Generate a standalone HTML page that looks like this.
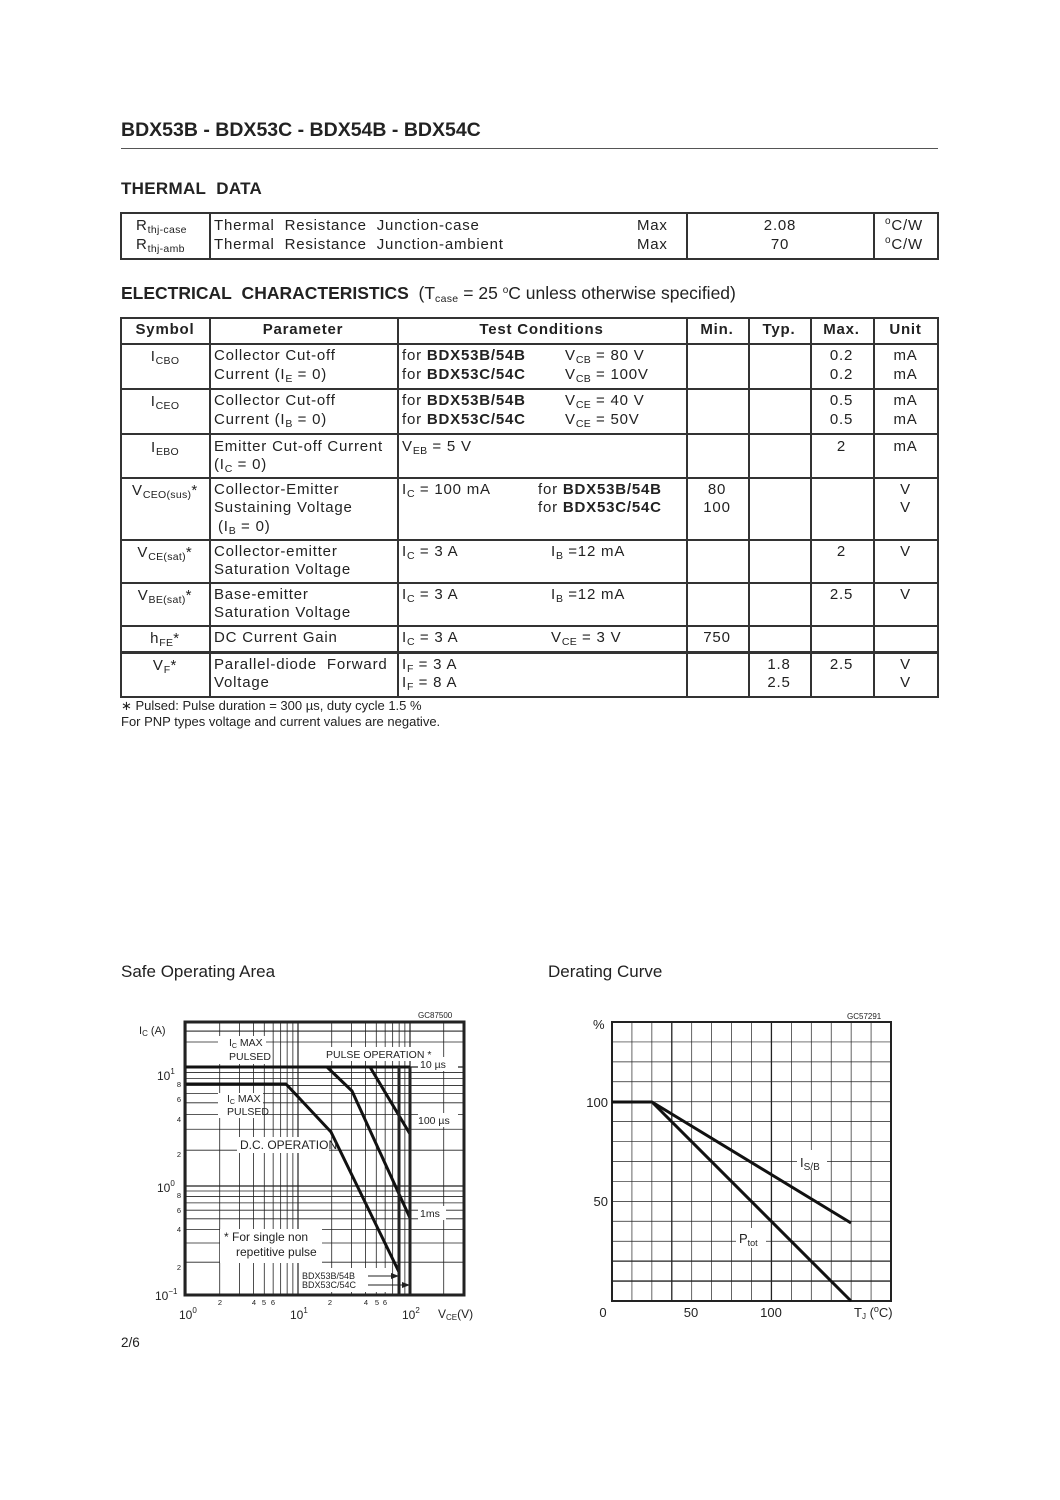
<!DOCTYPE html>
<html><head><meta charset="utf-8">
<style>
body{margin:0;background:#fff;}
#p{position:relative;width:1060px;height:1500px;background:#fff;font-family:"Liberation Sans",Arial,sans-serif;color:#222;overflow:hidden;}
.t{position:absolute;white-space:nowrap;font-size:15px;line-height:16px;letter-spacing:0.8px;}
.c{text-align:center;}
.b{font-weight:bold;}
sub{font-size:10.5px;vertical-align:-3px;line-height:0;letter-spacing:0.3px;}
sup{font-size:10px;vertical-align:6px;line-height:0;}
.h{position:absolute;background:#333;}
</style></head><body><div id="p">
<div class="t b" style="left:121px;top:119px;font-size:19.5px;line-height:22px;letter-spacing:0">BDX53B - BDX53C - BDX54B - BDX54C</div>
<div class="h" style="left:121px;top:148px;width:817px;height:1px;background:#555"></div>
<div class="t b" style="left:121px;top:180px;font-size:17px;line-height:18px;letter-spacing:0.3px">THERMAL&nbsp; DATA</div>

<!-- thermal table -->
<div style="position:absolute;left:120px;top:212px;width:815px;height:44px;border:2px solid #333;"></div>
<div class="h" style="left:209px;top:212px;width:1.5px;height:47px"></div>
<div class="h" style="left:686px;top:212px;width:1.5px;height:47px"></div>
<div class="h" style="left:873px;top:212px;width:1.5px;height:47px"></div>
<div class="t" style="left:136px;top:218px">R<sub>thj-case</sub></div>
<div class="t" style="left:136px;top:237px">R<sub>thj-amb</sub></div>
<div class="t" style="left:214px;top:218px;word-spacing:5px">Thermal Resistance Junction-case</div>
<div class="t" style="left:214px;top:237px;word-spacing:5px">Thermal Resistance Junction-ambient</div>
<div class="t" style="left:637px;top:218px">Max</div>
<div class="t" style="left:637px;top:237px">Max</div>
<div class="t c" style="left:740px;width:80px;top:218px">2.08</div>
<div class="t c" style="left:740px;width:80px;top:237px">70</div>
<div class="t" style="left:885px;top:218px"><sup>o</sup>C/W</div>
<div class="t" style="left:885px;top:237px"><sup>o</sup>C/W</div>

<div class="t" style="left:121px;top:284px;font-size:17.5px;line-height:19px;letter-spacing:0"><b>ELECTRICAL&nbsp; CHARACTERISTICS</b> &nbsp;(T<sub>case</sub> = 25 <sup>o</sup>C unless otherwise specified)</div>

<!-- electrical table -->
<div style="position:absolute;left:120px;top:317px;width:815px;height:377px;border:2px solid #333;"></div>
<div class="h" style="left:209px;top:317px;width:1.5px;height:380px"></div>
<div class="h" style="left:397px;top:317px;width:1.5px;height:380px"></div>
<div class="h" style="left:686px;top:317px;width:1.5px;height:380px"></div>
<div class="h" style="left:748px;top:317px;width:1.5px;height:380px"></div>
<div class="h" style="left:810px;top:317px;width:1.5px;height:380px"></div>
<div class="h" style="left:873px;top:317px;width:1.5px;height:380px"></div>
<div class="h" style="left:120px;top:343px;width:818px;height:2px"></div>
<div class="h" style="left:120px;top:388px;width:818px;height:2px"></div>
<div class="h" style="left:120px;top:433px;width:818px;height:2px"></div>
<div class="h" style="left:120px;top:477px;width:818px;height:2px"></div>
<div class="h" style="left:120px;top:539px;width:818px;height:2px"></div>
<div class="h" style="left:120px;top:582px;width:818px;height:2px"></div>
<div class="h" style="left:120px;top:625px;width:818px;height:2px"></div>
<div class="h" style="left:120px;top:651px;width:818px;height:2.5px"></div>

<div class="t b c" style="left:121px;width:88px;top:322px">Symbol</div>
<div class="t b c" style="left:209px;width:188px;top:322px">Parameter</div>
<div class="t b c" style="left:397px;width:289px;top:322px">Test Conditions</div>
<div class="t b c" style="left:686px;width:62px;top:322px">Min.</div>
<div class="t b c" style="left:748px;width:62px;top:322px">Typ.</div>
<div class="t b c" style="left:810px;width:63px;top:322px">Max.</div>
<div class="t b c" style="left:873px;width:65px;top:322px">Unit</div>

<!-- ICBO -->
<div class="t c" style="left:121px;width:88px;top:349px">I<sub>CBO</sub></div>
<div class="t" style="left:214px;top:348px">Collector Cut-off</div>
<div class="t" style="left:214px;top:367px">Current (I<sub>E</sub> = 0)</div>
<div class="t" style="left:402px;top:348px">for <b>BDX53B/54B</b></div>
<div class="t" style="left:402px;top:367px">for <b>BDX53C/54C</b></div>
<div class="t" style="left:565px;top:348px">V<sub>CB</sub> = 80 V</div>
<div class="t" style="left:565px;top:367px">V<sub>CB</sub> = 100V</div>
<div class="t c" style="left:810px;width:63px;top:348px">0.2</div>
<div class="t c" style="left:810px;width:63px;top:367px">0.2</div>
<div class="t c" style="left:873px;width:65px;top:348px">mA</div>
<div class="t c" style="left:873px;width:65px;top:367px">mA</div>
<!-- ICEO -->
<div class="t c" style="left:121px;width:88px;top:394px">I<sub>CEO</sub></div>
<div class="t" style="left:214px;top:393px">Collector Cut-off</div>
<div class="t" style="left:214px;top:412px">Current (I<sub>B</sub> = 0)</div>
<div class="t" style="left:402px;top:393px">for <b>BDX53B/54B</b></div>
<div class="t" style="left:402px;top:412px">for <b>BDX53C/54C</b></div>
<div class="t" style="left:565px;top:393px">V<sub>CE</sub> = 40 V</div>
<div class="t" style="left:565px;top:412px">V<sub>CE</sub> = 50V</div>
<div class="t c" style="left:810px;width:63px;top:393px">0.5</div>
<div class="t c" style="left:810px;width:63px;top:412px">0.5</div>
<div class="t c" style="left:873px;width:65px;top:393px">mA</div>
<div class="t c" style="left:873px;width:65px;top:412px">mA</div>
<!-- IEBO -->
<div class="t c" style="left:121px;width:88px;top:440px">I<sub>EBO</sub></div>
<div class="t" style="left:214px;top:439px">Emitter Cut-off Current</div>
<div class="t" style="left:214px;top:457px">(I<sub>C</sub> = 0)</div>
<div class="t" style="left:402px;top:439px">V<sub>EB</sub> = 5 V</div>
<div class="t c" style="left:810px;width:63px;top:439px">2</div>
<div class="t c" style="left:873px;width:65px;top:439px">mA</div>
<!-- VCEO -->
<div class="t c" style="left:121px;width:88px;top:483px">V<sub>CEO(sus)</sub>*</div>
<div class="t" style="left:214px;top:482px">Collector-Emitter</div>
<div class="t" style="left:214px;top:500px">Sustaining Voltage</div>
<div class="t" style="left:218px;top:519px">(I<sub>B</sub> = 0)</div>
<div class="t" style="left:402px;top:482px">I<sub>C</sub> = 100 mA</div>
<div class="t" style="left:538px;top:482px">for <b>BDX53B/54B</b></div>
<div class="t" style="left:538px;top:500px">for <b>BDX53C/54C</b></div>
<div class="t c" style="left:686px;width:62px;top:482px">80</div>
<div class="t c" style="left:686px;width:62px;top:500px">100</div>
<div class="t c" style="left:873px;width:65px;top:482px">V</div>
<div class="t c" style="left:873px;width:65px;top:500px">V</div>
<!-- VCEsat -->
<div class="t c" style="left:121px;width:88px;top:545px">V<sub>CE(sat)</sub>*</div>
<div class="t" style="left:214px;top:544px">Collector-emitter</div>
<div class="t" style="left:214px;top:562px">Saturation Voltage</div>
<div class="t" style="left:402px;top:544px">I<sub>C</sub> = 3 A</div>
<div class="t" style="left:551px;top:544px">I<sub>B</sub> =12 mA</div>
<div class="t c" style="left:810px;width:63px;top:544px">2</div>
<div class="t c" style="left:873px;width:65px;top:544px">V</div>
<!-- VBEsat -->
<div class="t c" style="left:121px;width:88px;top:588px">V<sub>BE(sat)</sub>*</div>
<div class="t" style="left:214px;top:587px">Base-emitter</div>
<div class="t" style="left:214px;top:605px">Saturation Voltage</div>
<div class="t" style="left:402px;top:587px">I<sub>C</sub> = 3 A</div>
<div class="t" style="left:551px;top:587px">I<sub>B</sub> =12 mA</div>
<div class="t c" style="left:810px;width:63px;top:587px">2.5</div>
<div class="t c" style="left:873px;width:65px;top:587px">V</div>
<!-- hFE -->
<div class="t c" style="left:121px;width:88px;top:631px">h<sub>FE</sub>*</div>
<div class="t" style="left:214px;top:630px">DC Current Gain</div>
<div class="t" style="left:402px;top:630px">I<sub>C</sub> = 3 A</div>
<div class="t" style="left:551px;top:630px">V<sub>CE</sub> = 3 V</div>
<div class="t c" style="left:686px;width:62px;top:630px">750</div>
<!-- VF -->
<div class="t c" style="left:121px;width:88px;top:658px">V<sub>F</sub>*</div>
<div class="t" style="left:214px;top:657px;word-spacing:5px">Parallel-diode Forward</div>
<div class="t" style="left:214px;top:675px">Voltage</div>
<div class="t" style="left:402px;top:657px">I<sub>F</sub> = 3 A</div>
<div class="t" style="left:402px;top:675px">I<sub>F</sub> = 8 A</div>
<div class="t c" style="left:748px;width:62px;top:657px">1.8</div>
<div class="t c" style="left:748px;width:62px;top:675px">2.5</div>
<div class="t c" style="left:810px;width:63px;top:657px">2.5</div>
<div class="t c" style="left:873px;width:65px;top:657px">V</div>
<div class="t c" style="left:873px;width:65px;top:675px">V</div>

<div class="t" style="left:121px;top:698px;font-size:13px;letter-spacing:0">∗ Pulsed: Pulse duration = 300 µs, duty cycle 1.5 %</div>
<div class="t" style="left:121px;top:714px;font-size:13px;letter-spacing:0">For PNP types voltage and current values are negative.</div>

<div class="t" style="left:121px;top:962px;font-size:17px;line-height:19px;letter-spacing:0">Safe Operating Area</div>
<div class="t" style="left:548px;top:962px;font-size:17px;line-height:19px;letter-spacing:0">Derating Curve</div>
<div class="t" style="left:121px;top:1335px;font-size:13.5px;letter-spacing:0">2/6</div>

<svg id="soa" style="position:absolute;left:0;top:0" width="1060" height="1500"></svg>
<script>
(function(){
var s='';
function L(x1,y1,x2,y2,w){s+='<line x1="'+x1+'" y1="'+y1+'" x2="'+x2+'" y2="'+y2+'" stroke="#222" stroke-width="'+w+'"/>';}
function T(x,y,t,fs,a){s+='<text x="'+x+'" y="'+y+'" font-family="Liberation Sans,Arial,sans-serif" font-size="'+fs+'" fill="#222"'+(a?' text-anchor="'+a+'"':'')+'>'+t+'</text>';}
var X0=186,XD=112,x1=185,x2=464,y1=1022,y2=1295;
function xv(v){return X0+Math.log10(v)*XD;}
function yv(v){var l=Math.log10(v);return l>=0?1186-l*119:1186-l*109;}
for(var d=1;d<=100;d*=10){for(var k=1;k<10;k++){var x=xv(d*k);if(x>x1&&x<x2)L(x,y1,x,y2,(k==1?1.2:0.8));}}
[0.1,1,10].forEach(function(d){for(var k=1;k<10;k++){var y=yv(d*k);if(y>y1&&y<y2)L(x1,y,x2,y,(k==1?1.2:0.8));}});
L(x1,1042,x2,1042,0.8);L(x1,1031,x2,1031,0.8);
s+='<rect x="'+x1+'" y="'+y1+'" width="'+(x2-x1)+'" height="'+(y2-y1)+'" fill="none" stroke="#222" stroke-width="3"/>';
s+='<rect x="218" y="1036" width="48" height="28" fill="#fff"/><rect x="322" y="1047" width="92" height="14" fill="#fff"/><rect x="418" y="1057" width="40" height="14" fill="#fff"/>';
s+='<rect x="218" y="1093" width="45" height="25" fill="#fff"/><rect x="237" y="1137" width="92" height="16" fill="#fff"/><rect x="418" y="1113" width="40" height="14" fill="#fff"/><rect x="418" y="1206" width="28" height="14" fill="#fff"/>';
s+='<rect x="220" y="1229" width="102" height="34" fill="#fff"/><rect x="300" y="1268" width="90" height="24" fill="#fff"/>';
var P='stroke="#111" stroke-width="3" fill="none" stroke-linejoin="round"';
s+='<polyline '+P+' points="186,1067 410,1067"/>';
s+='<polyline '+P+' points="186,1084 286,1084 331,1132 399,1272"/>';
s+='<polyline '+P+' points="327,1067 352,1091 410,1218"/>';
s+='<polyline '+P+' points="370,1067 410,1134"/>';
L(399,1067,399,1295,3);L(410,1067,410,1295,3);
L(368,1276,395,1276,1);s+='<polygon points="399,1276 391,1273 391,1279" fill="#222"/>';
L(368,1285,406,1285,1);s+='<polygon points="410,1285 402,1282 402,1288" fill="#222"/>';
var f=10.5;
T(229,1046,'I<tspan font-size="7" dy="2">C</tspan><tspan dy="-2"> MAX</tspan>',f);T(229,1060,'PULSED',f);
T(326,1058,'PULSE OPERATION *',f);T(420,1068,'10 µs',f);
T(227,1102,'I<tspan font-size="7" dy="2">C</tspan><tspan dy="-2"> MAX</tspan>',f);T(227,1115,'PULSED',f);
T(240,1149,'D.C. OPERATION',12);T(418,1124,'100 µs',f);T(420,1217,'1ms',f);
T(224,1241,'* For single non',12);T(236,1256,'repetitive pulse',12);
T(302,1279,'BDX53B/54B',9);T(302,1288,'BDX53C/54C',9);
T(418,1018,'GC87500',8);
T(139,1034,'I<tspan font-size="8" dy="2">C</tspan><tspan dy="-2"> (A)</tspan>',11);
T(157,1080,'10<tspan font-size="8" dy="-6">1</tspan>',12);T(157,1192,'10<tspan font-size="8" dy="-6">0</tspan>',12);T(155,1300,'10<tspan font-size="8" dy="-6">−1</tspan>',12);
[[8,1087],[6,1102],[4,1122],[2,1157],[8,1198],[6,1213],[4,1232],[2,1270]].forEach(function(a){T(179,a[1],a[0],7.5,'middle');});
T(179,1319,'10<tspan font-size="8" dy="-6">0</tspan>',12);T(290,1319,'10<tspan font-size="8" dy="-6">1</tspan>',12);T(402,1319,'10<tspan font-size="8" dy="-6">2</tspan>',12);
[[2,220],[4,254],[5,264],[6,273],[2,330],[4,366],[5,377],[6,385]].forEach(function(a){T(a[1],1305,a[0],7.5,'middle');});
T(438,1318,'V<tspan font-size="8" dy="2">CE</tspan><tspan dy="-2">(V)</tspan>',12);
var dx1=612,dx2=891,dy1=1022,dy2=1301;
for(var i=1;i<14;i++){var x=dx1+i*(dx2-dx1)/14;L(x,dy1,x,dy2,(i==3||i==8)?1.3:0.7);}
for(var i=1;i<14;i++){var y=dy1+i*(dy2-dy1)/14;L(dx1,y,dx2,y,(i>=12)?1.3:0.7);}
s+='<rect x="'+dx1+'" y="'+dy1+'" width="'+(dx2-dx1)+'" height="'+(dy2-dy1)+'" fill="none" stroke="#222" stroke-width="2"/>';
s+='<rect x="797" y="1150" width="30" height="20" fill="#fff"/><rect x="736" y="1228" width="30" height="20" fill="#fff"/>';
s+='<polyline '+P+' points="612,1102 652,1102 851,1223"/>';
s+='<polyline '+P+' points="652,1102 851,1301"/>';
T(800,1167,'I<tspan font-size="10" dy="3">S/B</tspan>',13);
T(739,1243,'P<tspan font-size="9" dy="3">tot</tspan>',13);
T(847,1019,'GC57291',8);
T(593,1029,'%',13);T(608,1107,'100',13,'end');T(608,1206,'50',13,'end');
T(603,1317,'0',13,'middle');T(691,1317,'50',13,'middle');T(771,1317,'100',13,'middle');
T(854,1317,'T<tspan font-size="8" dy="2">J</tspan><tspan dy="-2"> (</tspan><tspan font-size="9" dy="-5">o</tspan><tspan dy="5">C)</tspan>',13);
document.getElementById('soa').innerHTML=s;
})();
</script>
</div></body></html>
